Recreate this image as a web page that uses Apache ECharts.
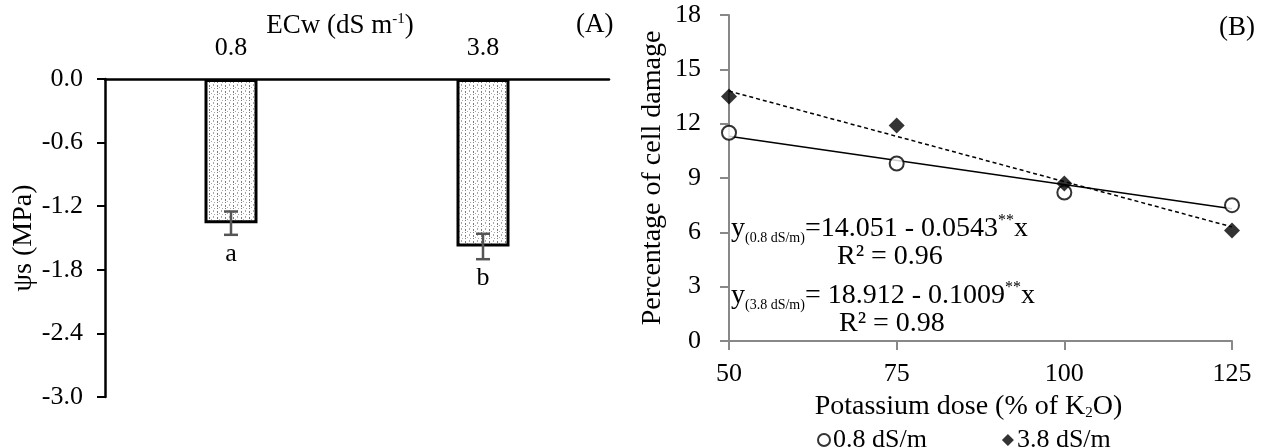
<!DOCTYPE html>
<html>
<head>
<meta charset="utf-8">
<script src="https://cdn.jsdelivr.net/npm/echarts@6/dist/echarts.min.js"></script>
<style>
  html, body { margin: 0; padding: 0; background: #fff; }
  #chart { width: 1263px; height: 448px; }
</style>
</head>
<body>
<div id="chart"></div>
<script>
// Panel A: osmotic potential by water salinity
const ecwLevels = ['0.8', '3.8'];
const psiMean = [-1.36, -1.58];
const psiErr = [0.11, 0.12];
const psiLetters = ['a', 'b'];
const psiTicks = [0.0, -0.6, -1.2, -1.8, -2.4, -3.0];

// Panel B: cell damage vs potassium dose
const kDose = [50, 75, 100, 125];
const damageLow = [11.5, 9.8, 8.2, 7.5];     // 0.8 dS/m
const damageHigh = [13.5, 11.9, 8.7, 6.1];   // 3.8 dS/m
const trendLow = [[50, 11.3], [125, 7.3]];
const trendHigh = [[50, 13.8], [125, 6.3]];

const FONT = 'Liberation Serif';

// dotted fill for the bars
function dotPattern() {
    const c = document.createElement('canvas');
    c.width = 8; c.height = 6;
    const g = c.getContext('2d');
    g.fillStyle = '#fff';
    g.fillRect(0, 0, 8, 6);
    g.fillStyle = '#7a7a7a';
    g.fillRect(1, 1, 1, 2);
    g.fillRect(1, 4, 1, 1);
    g.fillStyle = '#a8a8a8';
    g.fillRect(5, 0, 1, 2);
    g.fillRect(3, 3, 1, 1);
    g.fillRect(6, 4, 1, 1);
    return c;
}

const myChart = echarts.init(document.getElementById('chart'));

const eqRich = {
    m: { fontFamily: FONT, fontSize: 28, lineHeight: 32, verticalAlign: 'middle', color: '#000' },
    s: { fontFamily: FONT, fontSize: 14, lineHeight: 14, verticalAlign: 'bottom', color: '#000' },
    p: { fontFamily: FONT, fontSize: 16, lineHeight: 16, verticalAlign: 'top', color: '#000' }
};

myChart.setOption({
    animation: false,
    textStyle: { fontFamily: FONT, color: '#000' },
    grid: [
        { left: 105, top: 79, width: 504, height: 318 },
        { left: 729, top: 15, width: 503, height: 326 }
    ],
    legend: {
        left: 812,
        top: 422,
        itemGap: 75,
        itemWidth: 12,
        itemHeight: 12,
        data: [
            { name: '0.8 dS/m', icon: 'emptyCircle' },
            { name: '3.8 dS/m', icon: 'diamond' }
        ],
        textStyle: { fontFamily: FONT, fontSize: 26, color: '#000', padding: [0, 0, 0, -2] }
    },
    xAxis: [
        {
            gridIndex: 0,
            type: 'category',
            position: 'top',
            data: ecwLevels,
            axisLine: { onZero: false, lineStyle: { color: '#000', width: 2.5 } },
            axisTick: { inside: false, length: 8, lineStyle: { color: '#000', width: 2.5 } },
            axisLabel: { fontSize: 26, color: '#000', margin: 18 },
            name: 'ECw (dS m{p|-1})',
            nameLocation: 'middle',
            nameGap: 40,
            nameMoveOverlap: false,
            nameTextStyle: {
                fontSize: 27, color: '#000', padding: [0, 34, 0, 0],
                rich: { p: { fontSize: 15, verticalAlign: 'top', fontFamily: FONT } }
            }
        },
        {
            gridIndex: 1,
            type: 'value',
            min: 50,
            max: 125,
            interval: 25,
            axisLine: { lineStyle: { color: '#888', width: 2 } },
            axisTick: { length: 9, lineStyle: { color: '#888', width: 2 } },
            axisLabel: { fontSize: 26, color: '#000', margin: 20 },
            splitLine: { show: false },
            name: 'Potassium dose (% of K{s|2}O)',
            nameLocation: 'middle',
            nameGap: 52,
            nameTextStyle: {
                fontSize: 28, color: '#000', padding: [0, 24, 0, 0],
                rich: { s: { fontSize: 15, verticalAlign: 'bottom', fontFamily: FONT } }
            }
        }
    ],
    yAxis: [
        {
            gridIndex: 0,
            type: 'value',
            min: -3,
            max: 0,
            interval: 0.6,
            axisLine: { show: true, lineStyle: { color: '#000', width: 2.5 } },
            axisTick: { show: true, length: 8, lineStyle: { color: '#000', width: 2 } },
            axisLabel: {
                fontSize: 26, color: '#000', margin: 22,
                formatter: v => psiTicks.indexOf(Math.round(v * 10) / 10) >= 0 ? v.toFixed(1) : ''
            },
            splitLine: { show: false },
            name: 'ψs (MPa)',
            nameLocation: 'middle',
            nameGap: 64,
            nameTextStyle: { fontSize: 28, color: '#000' }
        },
        {
            gridIndex: 1,
            type: 'value',
            min: 0,
            max: 18,
            interval: 3,
            axisLine: { show: true, lineStyle: { color: '#888', width: 2 } },
            axisTick: { show: true, length: 9, lineStyle: { color: '#888', width: 2 } },
            axisLabel: { fontSize: 26, color: '#000', margin: 28 },
            splitLine: { show: false },
            name: 'Percentage of cell damage',
            nameLocation: 'middle',
            nameGap: 62,
            nameTextStyle: { fontSize: 28, color: '#000' }
        }
    ],
    series: [
        {
            name: 'ECw bars',
            type: 'bar',
            xAxisIndex: 0,
            yAxisIndex: 0,
            barWidth: 53,
            data: psiMean,
            itemStyle: {
                color: { image: dotPattern(), repeat: 'repeat' },
                borderColor: '#000',
                borderWidth: 3
            }
        },
        {
            name: 'ECw error',
            type: 'custom',
            xAxisIndex: 0,
            yAxisIndex: 0,
            z: 5,
            data: psiMean.map((v, i) => [i, v, psiErr[i]]),
            renderItem: function (params, api) {
                const i = api.value(0);
                const top = api.coord([i, api.value(1) + api.value(2)]);
                const bot = api.coord([i, api.value(1) - api.value(2)]);
                const cap = 7;
                const st = { stroke: '#555', lineWidth: 2.5 };
                return {
                    type: 'group',
                    children: [
                        { type: 'line', shape: { x1: top[0], y1: top[1], x2: bot[0], y2: bot[1] }, style: st },
                        { type: 'line', shape: { x1: top[0] - cap, y1: top[1], x2: top[0] + cap, y2: top[1] }, style: st },
                        { type: 'line', shape: { x1: bot[0] - cap, y1: bot[1], x2: bot[0] + cap, y2: bot[1] }, style: st },
                        {
                            type: 'text',
                            style: {
                                text: psiLetters[params.dataIndex],
                                x: bot[0], y: bot[1] + 19,
                                align: 'center', verticalAlign: 'middle',
                                font: '26px ' + FONT, fill: '#000'
                            }
                        }
                    ]
                };
            }
        },
        {
            name: '0.8 dS/m trend',
            type: 'line',
            xAxisIndex: 1,
            yAxisIndex: 1,
            data: trendLow,
            showSymbol: false,
            lineStyle: { color: '#000', width: 1.5 },
            z: 2
        },
        {
            name: '3.8 dS/m trend',
            type: 'line',
            xAxisIndex: 1,
            yAxisIndex: 1,
            data: trendHigh,
            showSymbol: false,
            lineStyle: { color: '#000', width: 1.5, type: [4, 3] },
            z: 2
        },
        {
            name: '0.8 dS/m',
            type: 'scatter',
            xAxisIndex: 1,
            yAxisIndex: 1,
            symbol: 'emptyCircle',
            symbolSize: 14,
            data: kDose.map((x, i) => [x, damageLow[i]]),
            itemStyle: { color: '#000', borderColor: '#000', borderWidth: 2.5 },
            z: 4
        },
        {
            name: '3.8 dS/m',
            type: 'scatter',
            xAxisIndex: 1,
            yAxisIndex: 1,
            symbol: 'diamond',
            symbolSize: 16,
            data: kDose.map((x, i) => [x, damageHigh[i]]),
            itemStyle: { color: '#000' },
            z: 4
        }
    ],
    graphic: [
        { type: 'text', left: 576, top: 11, style: { text: '(A)', font: '27px ' + FONT, fill: '#000' } },
        { type: 'text', left: 1219, top: 14, style: { text: '(B)', font: '27px ' + FONT, fill: '#000' } },
        {
            type: 'text', left: 731, top: 213,
            style: { text: '{m|y}{s|(0.8 dS/m)}{m|=14.051 - 0.0543}{p|**}{m|x}', rich: eqRich }
        },
        {
            type: 'text', left: 837, top: 243,
            style: { text: '{m|R² = 0.96}', rich: eqRich }
        },
        {
            type: 'text', left: 731, top: 280,
            style: { text: '{m|y}{s|(3.8 dS/m)}{m|= 18.912 - 0.1009}{p|**}{m|x}', rich: eqRich }
        },
        {
            type: 'text', left: 839, top: 310,
            style: { text: '{m|R² = 0.98}', rich: eqRich }
        }
    ]
});
</script>
</body>
</html>
